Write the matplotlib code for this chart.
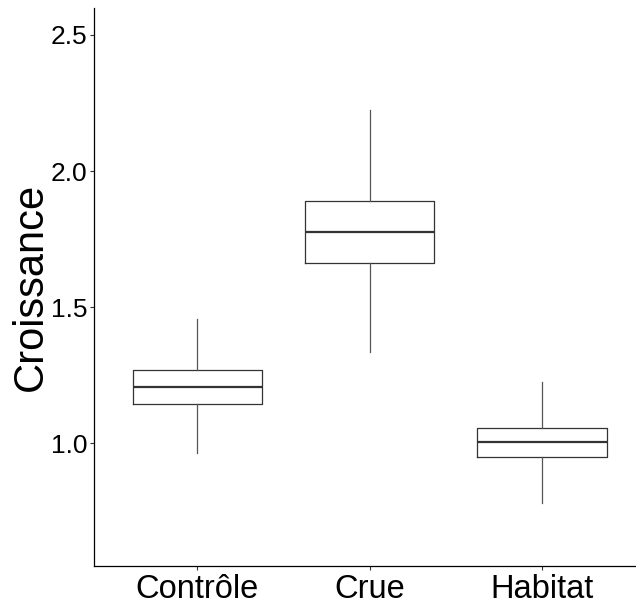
import numpy as np
import matplotlib
matplotlib.use("Agg")
import matplotlib.pyplot as plt

# %% data
groupes = ["Contrôle", "Crue", "Habitat"]
moust_bas = [0.963, 1.336, 0.780]
q1 = [1.143, 1.664, 0.949]
mediane = [1.208, 1.777, 1.005]
q3 = [1.268, 1.891, 1.057]
moust_haut = [1.456, 2.224, 1.226]
yticks = [1.0, 1.5, 2.0, 2.5]

plt.rcParams["font.family"] = ["Liberation Sans", "DejaVu Sans"]

stats = []
for i, g in enumerate(groupes):
    stats.append({"label": g, "whislo": moust_bas[i], "q1": q1[i], "med": mediane[i],
                  "q3": q3[i], "whishi": moust_haut[i], "fliers": []})

fig = plt.figure(figsize=(6.36, 6.04), dpi=100)
ax = fig.add_axes([94 / 636, 38 / 604, 1 - 94 / 636, (566 - 8) / 604])

ax.bxp(stats, positions=range(1, len(groupes) + 1), widths=0.75, showcaps=False,
       boxprops=dict(color="#333333", linewidth=0.9),
       whiskerprops=dict(color="#555555", linewidth=0.9),
       medianprops=dict(color="#333333", linewidth=1.6))

ax.set_xlim(0.4, 3.545)
ax.set_ylim(0.549, 2.599)
ax.set_yticks(yticks)
ax.set_yticklabels([f"{v:.1f}" for v in yticks])
ax.set_xticks(range(1, len(groupes) + 1))
ax.set_xticklabels(groupes)

for s in ["top", "right"]:
    ax.spines[s].set_visible(False)
for s in ["left", "bottom"]:
    ax.spines[s].set_color("black")
    ax.spines[s].set_linewidth(0.9)

ax.tick_params(axis="y", labelsize=19, length=3, width=0.8, color="#333333", pad=2, labelcolor="black")
ax.tick_params(axis="x", labelsize=23.5, length=3, width=0.8, color="#333333", pad=3, labelcolor="black")
ax.set_ylabel("Croissance", fontsize=30, labelpad=0)

fig.savefig("out.png", dpi=100)
